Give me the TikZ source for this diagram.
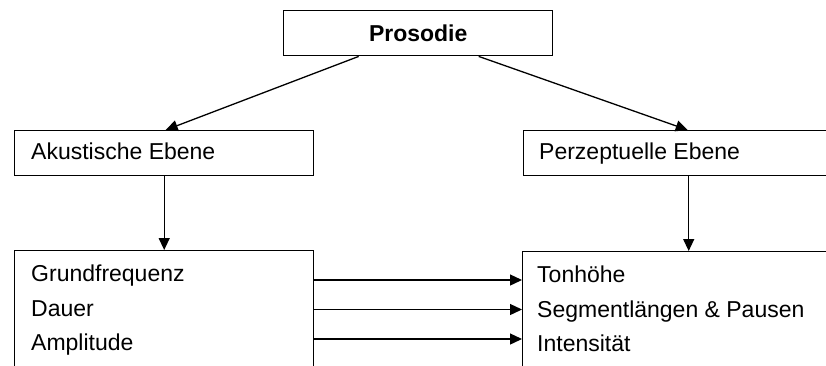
\documentclass[tikz,border=0pt]{standalone}
\usepackage{fontspec}
\setmainfont{Liberation Sans}
\usetikzlibrary{arrows.meta}
\begin{document}
\begin{tikzpicture}[x=1pt,y=-1pt,
  box/.style={draw,line width=1.4pt,rectangle,inner sep=0pt,anchor=north west},
  lbl/.style={font=\fontsize{23}{27}\selectfont,inner sep=0pt,anchor=base west},
  arr/.style={line width=1.3pt,-{Triangle[length=12pt,width=11pt]}}]
\useasboundingbox (0,0) rectangle (826,365);
\clip (0,0) rectangle (826,365);
% boxes
\node[box,minimum width=269pt,minimum height=45pt,font=\fontsize{23}{27}\selectfont\bfseries] (pros) at (283,10) {Prosodie};
\node[box,minimum width=299pt,minimum height=45pt] (akus) at (14,130) {};
\node[box,minimum width=330pt,minimum height=45pt] (perz) at (523,130) {};
\node[box,minimum width=299pt,minimum height=150pt] (lbot) at (14,250) {};
\node[box,minimum width=332pt,minimum height=150pt] (rbot) at (522,251) {};
% labels
\node[lbl] (akt) at (31,159) {Akustische Ebene};
\node[lbl] (pzt) at (539,159) {Perzeptuelle Ebene};
\node[lbl] (gf) at (31,281) {Grundfrequenz};
\node[lbl] (da) at (31,316) {Dauer};
\node[lbl] (am) at (31,350) {Amplitude};
\node[lbl] (th) at (537,282) {Tonhöhe};
\node[lbl] (sl) at (537,317) {Segmentlängen \& Pausen};
\node[lbl] (in) at (537,351) {Intensität};
% arrows
\draw[arr] ([xshift=-59.5pt]pros.south) -- ([xshift=1.5pt]akus.north);
\draw[arr] ([xshift=60.5pt]pros.south) -- ([xshift=-1pt]perz.north);
\draw[arr] (akus.south) -- (lbot.north);
\draw[arr] (perz.south) -- (rbot.north);
\coordinate (r1) at (0,280);
\coordinate (r2) at (0,309.5);
\coordinate (r3) at (0,339);
\draw[arr] (lbot.east |- r1) -- (rbot.west |- r1);
\draw[arr] (lbot.east |- r2) -- (rbot.west |- r2);
\draw[arr] (lbot.east |- r3) -- (rbot.west |- r3);
\end{tikzpicture}
\end{document}
